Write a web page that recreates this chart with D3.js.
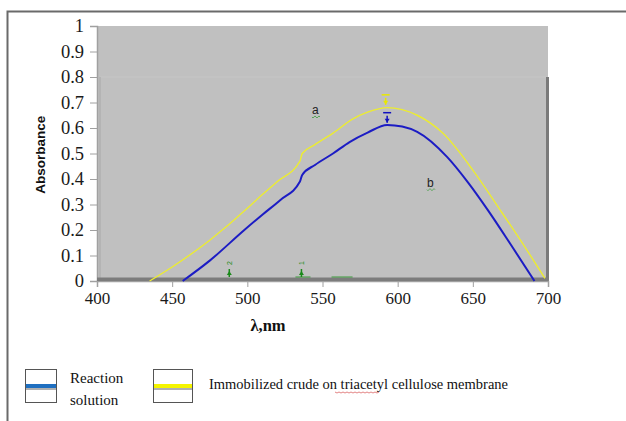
<!DOCTYPE html>
<html><head><meta charset="utf-8">
<script src="https://cdn.jsdelivr.net/npm/d3@7"></script>
<style>body{margin:0;background:#fff}svg{display:block}
.tk text{font-family:'Liberation Serif','Times New Roman',serif;fill:#1a1a1a}
.ytk text{font-size:18.5px}.xtk text{font-size:17px}</style>
</head><body>
<script>
const xTicks = [400, 450, 500, 550, 600, 650, 700];
const yTicks = [0, 0.1, 0.2, 0.3, 0.4, 0.5, 0.6, 0.7, 0.8, 0.9, 1];
const waveA = [435, 450, 475, 500, 506, 520, 535, 536.5, 545, 557, 570, 580, 593, 603, 613, 630, 650, 668, 685, 698];
const absA  = [0.0, 0.055, 0.16, 0.285, 0.318, 0.39, 0.47, 0.50, 0.535, 0.58, 0.635, 0.662, 0.68, 0.672, 0.65, 0.58, 0.435, 0.28, 0.13, 0.01];
const waveB = [457, 475, 498, 510, 522, 535, 536.5, 545, 557, 568, 580, 593, 603, 613, 633, 647, 660, 675, 691];
const absB  = [0.0, 0.08, 0.2, 0.26, 0.318, 0.39, 0.416, 0.455, 0.50, 0.545, 0.582, 0.612, 0.606, 0.585, 0.486, 0.385, 0.278, 0.145, 0.0];
const seriesNames = ["Reaction solution", "Immobilized crude on triacetyl cellulose membrane"];
const peakMarks = [{x: 592, y: 0.73, c: "#e8e800"}, {x: 593, y: 0.66, c: "#1010c0"}];
const greenMarks = [{x: 488, lab: "2"}, {x: 536, lab: "1"}];

const W = 626, H = 421;
const svg = d3.select("body").append("svg").attr("width", W).attr("height", H);
svg.append("path").attr("d", "M7.5,421 V11.5 H626").attr("fill", "none").attr("stroke", "#6a6a6a").attr("stroke-width", 2);

const x = d3.scaleLinear().domain([400, 700]).range([97, 548]);
const y = d3.scaleLinear().domain([0, 1]).range([281, 26]);

svg.append("rect").attr("x", x(400)).attr("y", y(1)).attr("width", x(700) - x(400)).attr("height", y(0) - y(1)).attr("fill", "#c0c0c0");
svg.append("line").attr("x1", x(400) + 3).attr("x2", x(700)).attr("y1", y(0.8)).attr("y2", y(0.8)).attr("stroke", "#c6c6c6").attr("stroke-width", 1);
svg.append("rect").attr("x", x(700) - 2).attr("y", y(0.8)).attr("width", 3).attr("height", y(0) - y(0.8)).attr("fill", "#7a7a7a");
svg.append("rect").attr("x", x(400) + 2).attr("y", y(0.8)).attr("width", 2).attr("height", y(0) - y(0.8)).attr("fill", "#b4b4b4");

const serif = "'Liberation Serif', 'Times New Roman', serif";
const yAxis = d3.axisLeft(y).tickValues(yTicks).tickSize(7).tickPadding(6).tickFormat(d => d3.format("")(d));
const gy = svg.append("g").attr("class", "tk ytk").attr("transform", `translate(${x(400)},0)`).call(yAxis);
const xAxis = d3.axisBottom(x).tickValues(xTicks).tickSize(6).tickPadding(5);
const gx = svg.append("g").attr("class", "tk xtk").attr("transform", `translate(0,${y(0)})`).call(xAxis);
[gx, gy].forEach(g => {
  g.attr("font-size", null).attr("font-family", null);
  g.select(".domain").attr("stroke", "#a0a0a0").attr("stroke-width", 1.5);
  g.selectAll(".tick line").attr("stroke", "#a0a0a0");
});
svg.append("rect").attr("x", x(400)).attr("y", y(0) - 3.5).attr("width", x(700) - x(400)).attr("height", 3.5).attr("fill", "#7c7c7c");

svg.append("line").attr("x1", x(532)).attr("x2", x(542)).attr("y1", y(0) - 4).attr("y2", y(0) - 4).attr("stroke", "#3a9a3a");
svg.append("line").attr("x1", x(556)).attr("x2", x(570)).attr("y1", y(0) - 4).attr("y2", y(0) - 4).attr("stroke", "#3a9a3a");
greenMarks.forEach(m => {
  const gx0 = x(m.x);
  svg.append("line").attr("x1", gx0).attr("x2", gx0).attr("y1", y(0) - 4).attr("y2", y(0) - 12).attr("stroke", "#1a8a1a").attr("stroke-width", 1.5);
  svg.append("path").attr("d", `M${gx0 - 2.5},${y(0) - 6} L${gx0 + 2.5},${y(0) - 6} L${gx0},${y(0) - 10} Z`).attr("fill", "#1a8a1a");
  svg.append("text").attr("transform", `translate(${gx0 + 3},${y(0) - 16}) rotate(-90)`).attr("font-size", 7).attr("fill", "#1a8a1a").attr("font-family", "Liberation Sans, Arial").text(m.lab);
});

const line = d3.line().x(d => x(d[0])).y(d => y(d[1])).curve(d3.curveMonotoneX);
svg.append("path").datum(waveA.map((w, i) => [w, absA[i]])).attr("d", line).attr("fill", "none").attr("stroke", "#ecec30").attr("stroke-width", 1.4);
svg.append("path").datum(waveB.map((w, i) => [w, absB[i]])).attr("d", line).attr("fill", "none").attr("stroke", "#1c1cc4").attr("stroke-width", 2);

peakMarks.forEach(p => {
  const px = x(p.x), py = y(p.y);
  svg.append("line").attr("x1", px - 4).attr("x2", px + 4).attr("y1", py).attr("y2", py).attr("stroke", p.c).attr("stroke-width", 1.5);
  svg.append("line").attr("x1", px).attr("x2", px).attr("y1", py + 3).attr("y2", py + 10).attr("stroke", p.c).attr("stroke-width", 1.5);
  svg.append("path").attr("d", `M${px - 2.5},${py + 6} L${px + 2.5},${py + 6} L${px},${py + 10} Z`).attr("fill", p.c);
});

[["a", 543, 0.655], ["b", 619.5, 0.37]].forEach(([t, wx, wy]) => {
  svg.append("text").attr("x", x(wx)).attr("y", y(wy)).attr("font-family", "'Liberation Sans', Arial, sans-serif").attr("font-size", 12).attr("fill", "#222").text(t);
  svg.append("path").attr("d", `M${x(wx)},${y(wy) + 3} q1,2 2,0 q1,-2 2,0 q1,2 2,0 q1,-2 2,0`).attr("fill", "none").attr("stroke", "#3a9a3a").attr("stroke-width", 0.8);
});

svg.append("text").attr("transform", `translate(45,${y(0.495)}) rotate(-90)`).attr("text-anchor", "middle")
  .attr("font-family", "'Liberation Sans', Arial, sans-serif").attr("font-weight", "bold").attr("font-size", 13.5).attr("fill", "#111").text("Absorbance");
svg.append("text").attr("x", 268).attr("y", 331).attr("text-anchor", "middle")
  .attr("font-family", serif).attr("font-weight", "bold").attr("font-size", 16.5).attr("fill", "#111").text("λ,nm");

const leg = [
  {bx: 25, bw: 31, col: "#1f6fc0", lines: ["Reaction", "solution"], tx: 70},
  {bx: 153, bw: 39, col: "#f5f500", lines: [seriesNames[1]], tx: 209}
];
leg.forEach(l => {
  svg.append("rect").attr("x", l.bx + 0.5).attr("y", 369.5).attr("width", l.bw).attr("height", 33).attr("fill", "#fff").attr("stroke", "#555");
  svg.append("rect").attr("x", l.bx + 1).attr("y", 384).attr("width", l.bw - 1).attr("height", 4).attr("fill", l.col);
  svg.append("rect").attr("x", l.bx + 1).attr("y", 388).attr("width", l.bw - 1).attr("height", 2).attr("fill", "#b0b0b0");
  const t = svg.append("text").attr("font-family", serif).attr("font-size", 15).attr("fill", "#111");
  if (l.lines.length === 2) {
    t.append("tspan").attr("x", l.tx).attr("y", 383).text(l.lines[0]);
    t.append("tspan").attr("x", l.tx).attr("y", 405).text(l.lines[1]);
  } else {
    t.attr("x", l.tx).attr("y", 389).attr("textLength", 299).attr("lengthAdjust", "spacingAndGlyphs").text(l.lines[0]);
  }
});
svg.append("path").attr("d", d3.range(0, 46, 2).map((d, i) => (i === 0 ? "M" : "L") + (335 + d) + "," + (392 + (i % 2))).join("")).attr("fill", "none").attr("stroke", "#d03030").attr("stroke-width", 0.6);
</script>
</body></html>
